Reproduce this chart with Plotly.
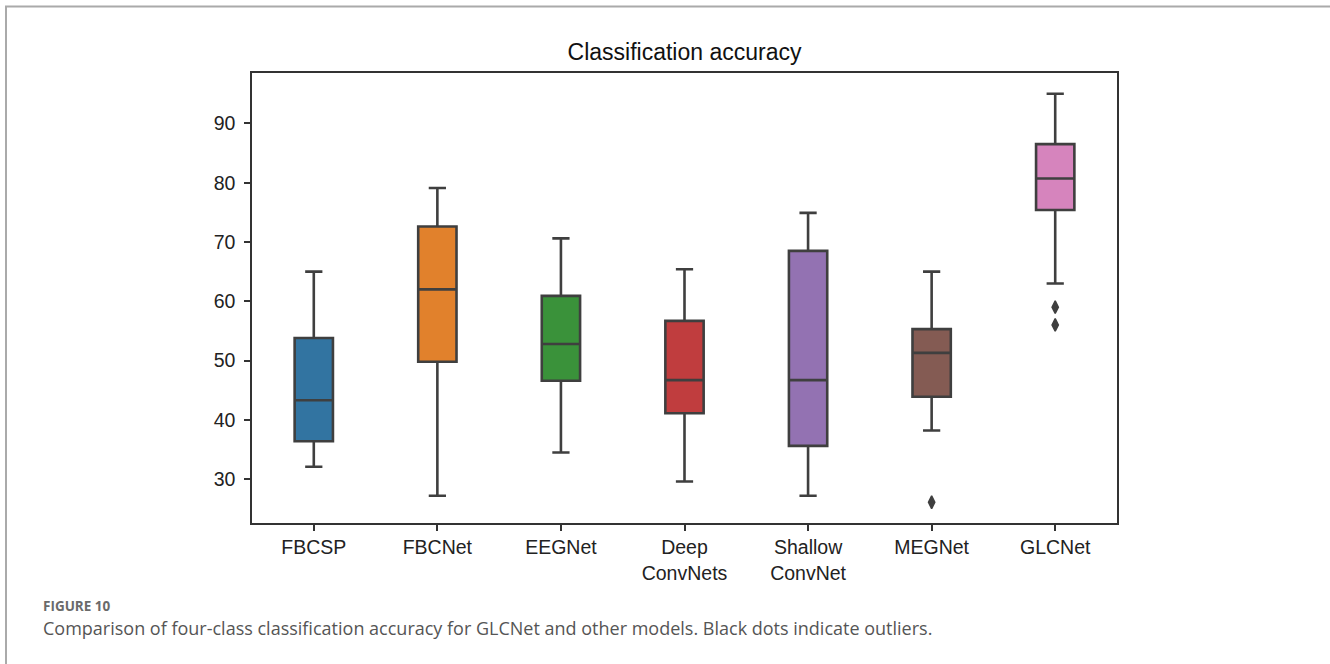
import plotly.graph_objects as go

categories = ["FBCSP", "FBCNet", "EEGNet", "Deep<br>ConvNets", "Shallow<br>ConvNet", "MEGNet", "GLCNet"]
lower_whisker = [32.1, 27.2, 34.5, 29.6, 27.2, 38.2, 63.0]
q1_vals = [36.4, 49.8, 46.6, 41.1, 35.6, 43.9, 75.4]
medians = [43.3, 62.0, 52.8, 46.7, 46.7, 51.3, 80.7]
q3_vals = [53.8, 72.6, 60.9, 56.7, 68.5, 55.3, 86.5]
upper_whisker = [65.0, 79.1, 70.6, 65.4, 74.9, 65.0, 95.0]
outlier_cats = ["MEGNet", "GLCNet", "GLCNet"]
outlier_vals = [26.1, 59.0, 56.0]
colors = ["#3274a1", "#e1812c", "#3a923a", "#c03d3e", "#9372b2", "#845b53", "#d684bd"]
y_ticks = [30, 40, 50, 60, 70, 80, 90]

W, H = 1330, 664
L, R, T, B = 252, 213, 73, 141
PW, PH = W - L - R, H - T - B


def px(x):
    return (x - L) / PW


def py(y):
    return (H - B - y) / PH


edge = "#3f3f3f"
fig = go.Figure()
for i, cat in enumerate(categories):
    fig.add_trace(go.Box(
        x=[cat], q1=[q1_vals[i]], median=[medians[i]], q3=[q3_vals[i]],
        lowerfence=[lower_whisker[i]], upperfence=[upper_whisker[i]],
        fillcolor=colors[i], line=dict(color=edge, width=2.6),
        width=0.31, whiskerwidth=0.45, boxpoints=False, showlegend=False,
        hoverinfo="skip",
    ))

fig.add_trace(go.Scatter(
    x=outlier_cats, y=outlier_vals, mode="markers",
    marker=dict(symbol="diamond-tall", size=9, color=edge, line=dict(width=1.5, color=edge)),
    showlegend=False, hoverinfo="skip",
))

fig.update_layout(
    width=W, height=H,
    margin=dict(l=L, r=R, t=T, b=B),
    paper_bgcolor="white", plot_bgcolor="white",
    boxmode="overlay",
    title=dict(text="Classification accuracy", x=(L + PW / 2) / W, xanchor="center",
               y=1 - 52 / H, yanchor="middle",
               font=dict(family="Liberation Sans, Arial", size=23, color="#111")),
    font=dict(family="Liberation Sans, Arial", size=19.5, color="#222"),
)
fig.update_xaxes(
    type="category", categoryorder="array", categoryarray=categories,
    range=[-0.5, 6.5], showline=True, mirror=True, linecolor="#333", linewidth=1.5,
    ticks="outside", ticklen=6, tickwidth=1.5, tickcolor="#333", showgrid=False,
    tickfont=dict(size=19.5, color="#222"),
)
fig.update_yaxes(
    range=[22.6, 98.5], tickvals=y_ticks, showline=True, mirror=True,
    linecolor="#333", linewidth=1.5, ticks="outside", ticklen=6, tickwidth=1.5,
    tickcolor="#333", showgrid=False, zeroline=False, ticklabelstandoff=5,
    tickfont=dict(size=19.5, color="#222"),
)

# outer frame of the figure panel (left and top edges visible)
fig.add_shape(type="rect", xref="paper", yref="paper",
              x0=px(6), x1=px(W + 20), y0=py(H + 20), y1=py(6.5),
              line=dict(color="#aaaaaa", width=2), fillcolor="rgba(0,0,0,0)", layer="below")

fig.add_annotation(text="FIGURE 10", xref="paper", yref="paper",
                   x=px(41), y=py(606), xanchor="left", yanchor="middle",
                   showarrow=False, font=dict(family="Open Sans", size=13.5, color="#6a6a6a", weight="bold"))
fig.add_annotation(text="Comparison of four-class classification accuracy for GLCNet and other models. Black dots indicate outliers.",
                   xref="paper", yref="paper",
                   x=px(41), y=py(628), xanchor="left", yanchor="middle",
                   showarrow=False, font=dict(family="Open Sans", size=18, color="#555"))

fig.write_html("out.html", config={"displayModeBar": False},
               post_script="document.body.style.margin='0';")
